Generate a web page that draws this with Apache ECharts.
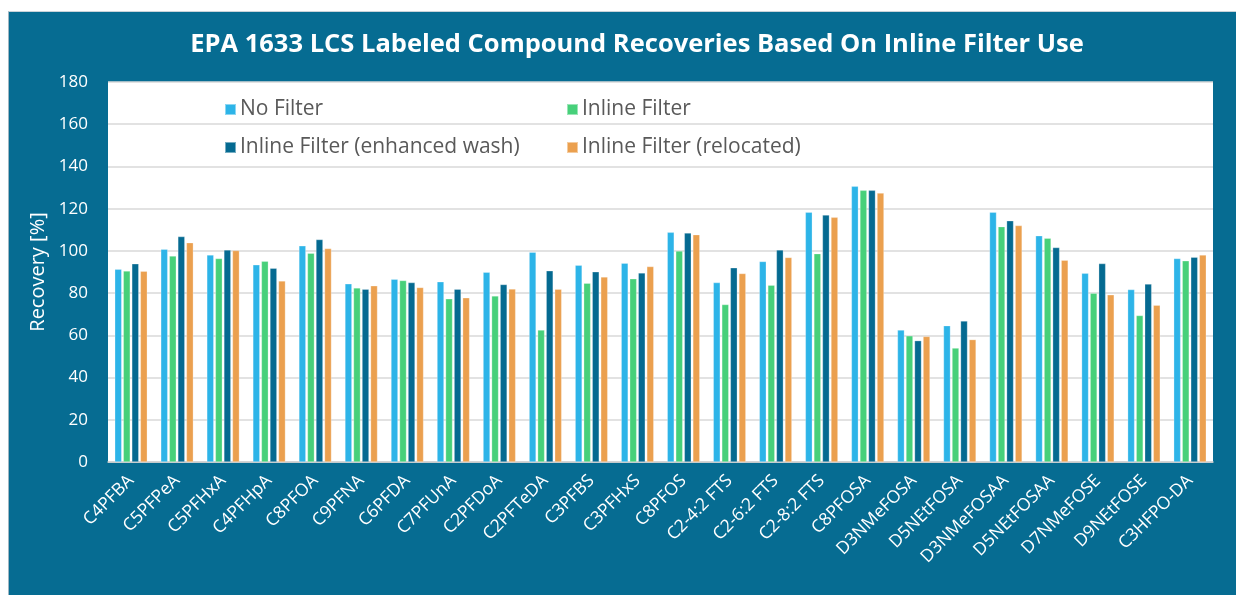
<!DOCTYPE html>
<html>
<head>
<meta charset="utf-8">
<script src="https://cdn.jsdelivr.net/npm/echarts@6/dist/echarts.min.js"></script>
<style>
html,body{margin:0;padding:0;background:#fff;}
#bg{position:absolute;left:8px;top:11px;width:1228px;height:584px;background:#066c92;border-left:1px solid #9fb6c2;border-top:1px solid #c8d3d9;box-sizing:border-box;}
#chart{position:absolute;left:0;top:0;width:1236px;height:595px;}
</style>
</head>
<body>
<div id="bg"></div>
<div id="chart"></div>
<script>
const categories = ["C4PFBA","C5PFPeA","C5PFHxA","C4PFHpA","C8PFOA","C9PFNA","C6PFDA","C7PFUnA","C2PFDoA","C2PFTeDA","C3PFBS","C3PFHxS","C8PFOS","C2-4:2 FTS","C2-6:2 FTS","C2-8:2 FTS","C8PFOSA","D3NMeFOSA","D5NEtFOSA","D3NMeFOSAA","D5NEtFOSAA","D7NMeFOSE","D9NEtFOSE","C3HFPO-DA"];
const noFilter = [91.3,100.8,98.1,93.4,102.4,84.4,86.6,85.4,89.9,99.4,93.2,94.2,108.8,85.0,95.0,118.3,130.6,62.5,64.6,118.3,107.2,89.4,81.7,96.4];
const inlineFilter = [90.5,97.6,96.4,95.1,98.9,82.5,86.0,77.3,78.7,62.5,84.7,86.8,100.0,74.6,83.8,98.7,128.7,59.8,54.0,111.5,106.0,80.0,69.4,95.3];
const enhancedWash = [93.9,106.8,100.5,91.8,105.4,81.9,85.0,81.9,84.1,90.6,90.1,89.6,108.5,92.0,100.5,117.0,128.7,57.5,66.8,114.3,101.6,94.0,84.3,97.0];
const relocated = [90.4,103.9,100.2,85.8,101.1,83.5,82.7,77.8,82.0,81.9,87.7,92.6,107.7,89.3,96.9,115.9,127.4,59.5,58.0,112.0,95.6,79.2,74.3,98.1];
const seriesNames = ["No Filter","Inline Filter","Inline Filter (enhanced wash)","Inline Filter (relocated)"];
const colors = ["#2db4e8","#47d07a","#056a91","#eba04f"];
const FONT = "'Open Sans', 'Noto Sans', sans-serif";

const chart = echarts.init(document.getElementById('chart'));
const values = [noFilter, inlineFilter, enhancedWash, relocated];
const legendPos = [[219,94],[561,94],[219,132],[561,132]];
chart.setOption({
  backgroundColor: 'transparent',
  color: colors,
  textStyle: {fontFamily: FONT},
  title: {
    text: 'EPA 1633 LCS Labeled Compound Recoveries Based On Inline Filter Use',
    left: 632, top: 27, textAlign: 'center',
    textStyle: {color:'#fff', fontSize: 25.5, fontWeight: 'bold', fontFamily: FONT}
  },
  legend: seriesNames.map((n,i)=>({
    data:[n], left: legendPos[i][0], top: legendPos[i][1],
    icon:'rect', itemWidth: 11, itemHeight: 11, itemGap: 6,
    textStyle:{color:'#595959', fontSize: 21, fontFamily: FONT, padding:[0,0,0,-1]}
  })),
  grid: {left:108, right:23, top:82, bottom:133, show:true, backgroundColor:'#fff', borderWidth:0},
  xAxis: {
    type:'category', data: categories,
    axisLine:{show:true, lineStyle:{color:'#d0d0d0', width:1.5}},
    axisTick:{show:false},
    axisLabel:{color:'#fff', fontSize:17.5, rotate:45, margin:16, interval:0, fontFamily: FONT}
  },
  yAxis: {
    type:'value', min:0, max:180, interval:20,
    name:'Recovery [%]', nameLocation:'middle', nameGap:58, nameRotate:90,
    nameTextStyle:{color:'#fff', fontSize:20, fontFamily: FONT},
    axisLine:{show:false}, axisTick:{show:false},
    axisLabel:{color:'#fff', fontSize:17, margin:20, fontFamily: FONT},
    splitLine:{lineStyle:{color:'#d9d9d9', width:1.5}}
  },
  series: seriesNames.map((n,i)=>({
    name:n, type:'bar', data: values[i],
    barWidth:7, barGap:'22%',
    itemStyle:{color: colors[i], borderColor:'rgba(255,255,255,0.45)', borderWidth:0.6},
    emphasis:{disabled:true}
  }))
});
</script>
</body>
</html>
